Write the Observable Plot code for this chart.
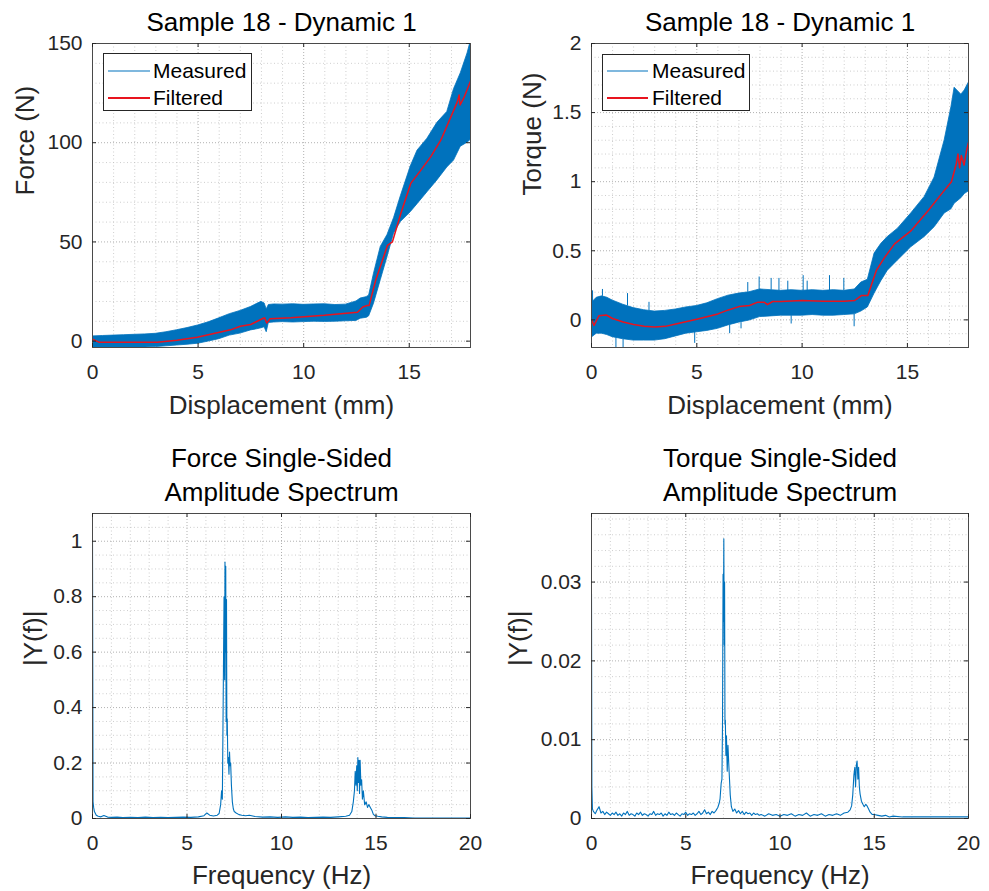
<!DOCTYPE html>
<html><head><meta charset="utf-8">
<script src="https://cdn.jsdelivr.net/npm/d3@7"></script>
<script src="https://cdn.jsdelivr.net/npm/@observablehq/plot@0.6"></script>
<style>
body{margin:0;background:#fff;}
#wrap{position:relative;width:989px;height:891px;background:#fff;overflow:hidden;}
</style>
</head><body><div id="wrap"></div>
<script>
// ---------- DATA ----------
// Force (N) measured band: [displacement mm, lower envelope, upper envelope]
const forceBand = [
 [0,-3.5,2.4],[0.5,-3.5,2.6],[1,-3.5,2.8],[1.5,-3.4,3.0],[2,-3.3,3.2],[2.5,-3.2,3.4],[3,-3.0,3.7],
 [3.5,-2.6,4.5],[4,-2.2,5.5],[4.5,-1.8,6.6],[5,-1.3,7.9],[5.5,-0.2,9.5],[6,1.0,11.5],[6.5,2.8,13.6],
 [7,3.8,15.2],[7.5,5.4,17.2],[7.8,6.0,18.8],[8,6.5,19.8],[8.15,7.0,19.0],[8.25,4.5,16.0],[8.35,9.2,18.2],
 [8.6,9.4,18.5],[9,9.6,18.4],[9.5,9.4,18.6],[10,9.6,18.3],[10.5,9.8,18.5],[11,9.7,18.6],[11.5,9.8,18.2],
 [12,10.0,18.4],[12.5,10.2,20.0],[12.7,11.3,21.5],[13,11.8,22.2],[13.1,12.5,23.0],[13.33,18.9,34],
 [13.65,30.7,47.5],[13.97,42.4,53.5],[14.28,54.2,62],[14.6,60,73],[15.07,65,88],[15.39,69,96],
 [15.86,75,102],[16.33,81,110],[16.8,87.5,115.5],[17.12,91,127],[17.44,98,135],[17.76,100,145],[17.91,101.4,151]
];
// Force filtered: [displacement mm, force N]
const forceFiltered = [
 [0,1],[0.3,-0.5],[1.45,-0.5],[3.07,-0.5],[4,0.5],[4.96,2],[5.8,4],[6.54,5.7],[7,7.5],[7.49,8.4],
 [8.04,11.3],[8.15,11.8],[8.25,9.1],[8.41,11.3],[9.39,11.8],[10.97,13],[12.55,14.6],[12.8,17.2],[13,18],
 [13.1,18],[13.41,30.7],[13.97,48.3],[14.2,50],[14.6,64.3],[15.07,79.5],[15.55,86.2],[16.02,93],
 [16.5,101.4],[16.97,113],[17.28,120.7],[17.36,124],[17.41,119],[17.6,123],[17.9,131]
];
// Torque measured band: [displacement mm, lower, upper]
const torqueBand = [
 [0,-0.13,0.12],[0.25,-0.1,0.16],[0.5,-0.1,0.17],[0.75,-0.11,0.16],[1,-0.125,0.14],[1.5,-0.14,0.11],
 [2,-0.15,0.085],[2.5,-0.15,0.07],[3,-0.15,0.06],[3.5,-0.14,0.065],[4,-0.12,0.075],[4.5,-0.1,0.09],
 [5,-0.09,0.1],[5.5,-0.08,0.12],[6,-0.065,0.15],[6.5,-0.04,0.175],[7,-0.02,0.19],[7.5,-0.005,0.2],
 [8,0.02,0.22],[8.5,0.025,0.215],[9,0.03,0.21],[9.5,0.03,0.215],[10,0.03,0.21],[10.5,0.035,0.215],
 [11,0.03,0.21],[11.5,0.03,0.215],[12,0.035,0.21],[12.5,0.04,0.22],[12.81,0.06,0.27],[13.12,0.09,0.29],
 [13.44,0.19,0.48],[13.76,0.28,0.55],[14.07,0.356,0.6],[14.55,0.43,0.66],[15.18,0.525,0.77],
 [15.82,0.6,0.89],[16.29,0.67,1.03],[16.77,0.77,1.3],[17.09,0.8,1.54],[17.24,0.84,1.68],
 [17.56,0.88,1.63],[17.72,0.91,1.66],[17.96,0.935,1.73]
];
// Torque isolated spikes: [displacement, band edge, spike tip]
const torqueSpikes = [
 [0.05,0.12,0.21],[0.52,0.17,0.22],[1.71,0.1,0.19],[2.73,0.065,0.127],[7.42,0.2,0.27],[7.96,0.22,0.31],
 [8.53,0.215,0.3],[8.9,0.21,0.3],[9.32,0.21,0.28],[10.05,0.21,0.32],[10.24,0.21,0.28],[11.3,0.21,0.32],
 [11.98,0.21,0.3],[1.16,-0.13,-0.2],[1.5,-0.14,-0.2],[4.9,-0.09,-0.17],[6.56,-0.04,-0.1],
 [7.1,-0.02,-0.065],[9.48,0.03,-0.03],[12.47,0.04,-0.05]
];
// Torque filtered: [displacement mm, torque]
const torqueFiltered = [
 [0,0],[0.12,-0.04],[0.35,0.03],[0.7,0.035],[1,0.01],[1.5,-0.015],[2,-0.034],[2.5,-0.047],[3,-0.052],
 [3.5,-0.047],[4,-0.03],[5,0.005],[6,0.043],[6.5,0.072],[7,0.096],[7.5,0.104],[7.9,0.128],[8.2,0.128],
 [8.35,0.11],[8.6,0.133],[9,0.133],[10,0.14],[11,0.135],[12,0.135],[12.5,0.14],[12.81,0.176],[13.12,0.176],
 [13.52,0.356],[13.91,0.45],[14.39,0.55],[15.18,0.646],[15.98,0.79],[16.61,0.91],[17.09,1.0],[17.32,1.13],
 [17.4,1.2],[17.48,1.1],[17.56,1.19],[17.69,1.12],[17.8,1.22],[17.96,1.32]
];
// Force spectrum: [frequency Hz, |Y(f)|]
const forceSpectrum = [
 [0,1.0],[0.03,0.06],[0.06,0.04],[0.1,0.025],[0.2,0.012],[0.3,0.008],[0.45,0.006],[0.6,0.011],[0.8,0.005],
 [1.0,0.004],[1.3,0.005],[1.6,0.003],[2.0,0.004],[2.4,0.003],[2.8,0.005],[3.2,0.003],[3.6,0.004],[4.0,0.003],
 [4.4,0.004],[4.8,0.005],[5.2,0.004],[5.6,0.006],[5.9,0.01],[6.05,0.02],[6.2,0.012],[6.4,0.009],[6.6,0.012],
 [6.7,0.018],[6.78,0.05],[6.83,0.1],[6.87,0.07],[6.9,0.3],[6.93,0.55],[6.96,0.8],[6.99,0.5],[7.01,0.925],
 [7.03,0.6],[7.05,0.91],[7.07,0.35],[7.09,0.79],[7.11,0.3],[7.13,0.36],[7.16,0.2],[7.19,0.22],[7.22,0.16],
 [7.25,0.24],[7.28,0.19],[7.31,0.2],[7.35,0.12],[7.4,0.06],[7.45,0.035],[7.5,0.025],[7.6,0.02],[7.75,0.014],
 [7.9,0.012],[8.1,0.01],[8.3,0.012],[8.6,0.007],[9.0,0.005],[9.4,0.006],[9.8,0.004],[10.2,0.006],[10.6,0.004],
 [11.0,0.005],[11.4,0.003],[11.8,0.004],[12.2,0.005],[12.6,0.004],[13.0,0.006],[13.4,0.008],[13.6,0.012],
 [13.72,0.025],[13.8,0.06],[13.86,0.1],[13.9,0.17],[13.94,0.12],[13.98,0.19],[14.01,0.1],[14.04,0.22],
 [14.07,0.13],[14.1,0.21],[14.13,0.09],[14.16,0.21],[14.2,0.12],[14.24,0.14],[14.28,0.07],[14.33,0.1],
 [14.4,0.05],[14.48,0.06],[14.55,0.04],[14.62,0.05],[14.7,0.04],[14.78,0.03],[14.86,0.015],[14.95,0.01],
 [15.1,0.008],[15.3,0.006],[15.6,0.004],[16.0,0.003],[16.5,0.003],[17.0,0.002],[17.5,0.002],[18.0,0.002],
 [18.5,0.002],[19.0,0.002],[19.5,0.002],[20.0,0.002]
];
// Torque spectrum: [frequency Hz, |Y(f)|]
const torqueSpectrum = [
 [0,0.0285],[0.02,0.004],[0.05,0.0012],[0.1,0.0009],[0.2,0.0006],[0.3,0.0011],[0.4,0.0015],[0.5,0.0007],
 [0.6,0.0009],[0.7,0.0005],[0.8,0.0008],[0.9,0.0006],[1.0,0.0004],[1.1,0.0007],[1.2,0.0005],[1.3,0.0008],
 [1.4,0.0004],[1.5,0.0006],[1.6,0.0003],[1.7,0.0007],[1.8,0.0005],[1.9,0.0009],[2.0,0.0004],[2.1,0.0006],
 [2.2,0.0005],[2.3,0.0003],[2.4,0.0007],[2.5,0.0005],[2.6,0.0008],[2.7,0.0004],[2.8,0.0006],[2.9,0.0005],
 [3.0,0.0003],[3.1,0.0006],[3.2,0.0005],[3.3,0.0009],[3.4,0.0004],[3.5,0.0006],[3.6,0.0005],[3.7,0.0007],
 [3.8,0.0003],[3.9,0.0006],[4.0,0.0004],[4.1,0.0008],[4.2,0.0005],[4.3,0.0006],[4.4,0.0004],[4.5,0.0007],
 [4.6,0.0005],[4.7,0.0003],[4.8,0.0006],[4.9,0.0005],[5.0,0.0008],[5.1,0.0004],[5.2,0.0006],[5.3,0.0005],
 [5.4,0.0007],[5.5,0.0004],[5.6,0.0006],[5.7,0.0009],[5.8,0.0005],[5.9,0.0007],[6.0,0.0011],[6.1,0.0006],
 [6.2,0.0008],[6.3,0.0005],[6.4,0.0009],[6.5,0.0007],[6.6,0.001],[6.7,0.0014],[6.77,0.0019],
 [6.82,0.0025],[6.88,0.0045],[6.92,0.005],[6.95,0.012],[6.98,0.031],[7.0,0.025],[7.02,0.0355],[7.04,0.022],
 [7.06,0.03],[7.08,0.012],[7.1,0.0125],[7.13,0.008],[7.16,0.0105],[7.2,0.006],[7.24,0.0093],[7.28,0.007],
 [7.32,0.005],[7.36,0.003],[7.42,0.0015],[7.5,0.0009],[7.6,0.0012],[7.7,0.0007],[7.8,0.001],[7.9,0.0006],
 [8.0,0.0009],[8.1,0.0005],[8.2,0.0008],[8.3,0.0006],[8.4,0.0007],[8.5,0.0004],[8.6,0.0007],[8.7,0.0005],
 [8.8,0.0006],[8.9,0.0004],[9.0,0.0005],[9.2,0.0003],[9.4,0.0006],[9.6,0.0004],[9.8,0.0005],[10.0,0.0003],
 [10.2,0.0005],[10.4,0.0004],[10.6,0.0006],[10.8,0.0003],[11.0,0.0005],[11.2,0.0004],[11.4,0.0007],
 [11.6,0.0003],[11.8,0.0005],[12.0,0.0004],[12.2,0.0006],[12.4,0.0003],[12.6,0.0005],[12.8,0.0004],
 [13.0,0.0006],[13.2,0.0004],[13.4,0.0007],[13.6,0.0008],[13.72,0.0011],[13.8,0.0016],
 [13.86,0.003],[13.92,0.0055],[13.97,0.0065],[14.01,0.004],[14.05,0.0068],[14.09,0.0073],[14.13,0.005],
 [14.17,0.0065],[14.21,0.004],[14.25,0.0031],[14.32,0.0022],[14.4,0.0018],[14.47,0.0015],[14.55,0.0018],
 [14.62,0.0016],[14.7,0.0012],[14.78,0.0008],[14.9,0.0005],[15.0,0.0005],[15.2,0.0004],[15.4,0.0003],
 [15.6,0.0004],[15.8,0.0002],[16.0,0.0003],[16.5,0.0002],[17.0,0.0002],[17.5,0.0002],[18.0,0.0002],
 [18.5,0.0002],[19.0,0.0002],[19.5,0.0002],[20.0,0.0002]
];
// Tick labels
const dispTicks = [0, 5, 10, 15];
const forceTicks = [0, 50, 100, 150];
const torqueTicks = [0, 0.5, 1, 1.5, 2];
const freqTicks = [0, 5, 10, 15, 20];
const ampForceTicks = [0, 0.2, 0.4, 0.6, 0.8, 1];
const ampTorqueTicks = [0, 0.01, 0.02, 0.03];
const titlesTop = ["Sample 18 - Dynamic 1"];
const titlesForceSpec = ["Force Single-Sided", "Amplitude Spectrum"];
const titlesTorqueSpec = ["Torque Single-Sided", "Amplitude Spectrum"];
const legendLabels = ["Measured", "Filtered"];

// ---------- STYLE ----------
const FONT = '"Liberation Sans", Arial, Helvetica, sans-serif';
const BLUE = "#0072BD", RED = "#E8141E", AXIS = "#262626";

function steps(a, b, step) {
  const out = [];
  for (let i = 0; a + i * step <= b + 1e-9; i++) out.push(+(a + i * step).toFixed(6));
  return out;
}

function panel(c) {
  const fw = c.width - c.ml - c.mr, fh = c.height - c.mt - c.mb;
  const isMajor = (arr) => (v) => arr.some(t => Math.abs(t - v) < 1e-9);
  const minorX = steps(Math.ceil(c.xDomain[0] / c.xMinor) * c.xMinor, c.xDomain[1], c.xMinor).filter(v => !isMajor(c.xTicks)(v));
  const minorY = steps(Math.ceil(c.yDomain[0] / c.yMinor - 1e-9) * c.yMinor, c.yDomain[1], c.yMinor).filter(v => !isMajor(c.yTicks)(v));
  const titleMarks = c.titles.map((t, i) => Plot.text([t], {
    text: d => d, frameAnchor: "top", dy: c.titleDy[i], lineAnchor: "middle",
    fontSize: 26, fill: "#000"
  }));
  return Plot.plot({
    width: c.width, height: c.height,
    marginLeft: c.ml, marginRight: c.mr, marginTop: c.mt, marginBottom: c.mb,
    x: {domain: c.xDomain},
    y: {domain: c.yDomain},
    style: {fontFamily: FONT, color: AXIS, background: "transparent", overflow: "visible"},
    marks: [
      Plot.ruleX(minorX, {stroke: "#c2c2c2", strokeDasharray: "1,2.5", strokeWidth: 0.8}),
      Plot.ruleY(minorY, {stroke: "#c2c2c2", strokeDasharray: "1,2.5", strokeWidth: 0.8}),
      Plot.ruleX(c.xTicks, {stroke: "#a8a8a8", strokeDasharray: "1,2", strokeWidth: 0.9}),
      Plot.ruleY(c.yTicks, {stroke: "#a8a8a8", strokeDasharray: "1,2", strokeWidth: 0.9}),
      ...c.marks,
      Plot.frame({stroke: "#4a4a4a", strokeWidth: 1}),
      Plot.tickX(c.xTicks, {insetTop: fh - 4, stroke: AXIS}),
      Plot.tickX(c.xTicks, {insetBottom: fh - 4, stroke: AXIS}),
      Plot.tickY(c.yTicks, {insetRight: fw - 4, stroke: AXIS}),
      Plot.tickY(c.yTicks, {insetLeft: fw - 4, stroke: AXIS}),
      Plot.axisX(c.xTicks, {tickSize: 0, tickPadding: 17, fontSize: 21, tickFormat: d => String(d), label: null}),
      Plot.axisY(c.yTicks, {tickSize: 0, tickPadding: 10, fontSize: 21, tickFormat: d => String(d), label: null}),
      ...titleMarks,
      Plot.text([c.xLabel], {text: d => d, frameAnchor: "bottom", dy: c.xLabelDy, lineAnchor: "middle", fontSize: 26, fill: AXIS}),
      Plot.text([c.yLabel], {text: d => d, frameAnchor: "left", dx: c.yLabelDx, rotate: -90, lineAnchor: "middle", fontSize: 26, fill: AXIS})
    ]
  });
}

const root = document.getElementById("wrap");
function place(node, left, top) {
  node.style.position = "absolute";
  node.style.left = left + "px";
  node.style.top = top + "px";
  root.appendChild(node);
}

function legendBox(left, top, w, h, lx0, lx1, tx, rows) {
  const ns = "http://www.w3.org/2000/svg";
  const svg = document.createElementNS(ns, "svg");
  svg.setAttribute("width", w); svg.setAttribute("height", h);
  svg.style.overflow = "visible";
  let html = `<rect x="0.5" y="0.5" width="${w - 1}" height="${h - 1}" fill="#fff" stroke="#262626" stroke-width="1"/>`;
  const colors = [BLUE, RED], widths = [1.2, 1.8];
  legendLabels.forEach((lab, i) => {
    const y = rows[i];
    html += `<line x1="${lx0}" x2="${lx1}" y1="${y}" y2="${y}" stroke="${colors[i]}" stroke-width="${widths[i]}"/>`;
    html += `<text x="${tx}" y="${y}" dy="0.35em" font-family='${FONT}' font-size="21" fill="#000">${lab}</text>`;
  });
  svg.innerHTML = html;
  place(svg, left, top);
}

// Panel 1: force vs displacement
place(panel({
  width: 495, height: 430, ml: 92, mr: 25, mt: 43, mb: 83,
  xDomain: [0, 17.9], yDomain: [-3.2, 150], xTicks: dispTicks, yTicks: forceTicks, xMinor: 1, yMinor: 10,
  titles: titlesTop, titleDy: [-21], xLabel: "Displacement (mm)", xLabelDy: 58, yLabel: "Force (N)", yLabelDx: -67,
  marks: [
    Plot.areaY(forceBand, {x: d => d[0], y1: d => d[1], y2: d => d[2], fill: BLUE, stroke: BLUE, strokeWidth: 0.8, clip: true}),
    Plot.line(forceFiltered, {x: d => d[0], y: d => d[1], stroke: RED, strokeWidth: 1.5, clip: true})
  ]
}), 0, 0);

// Panel 2: torque vs displacement
place(panel({
  width: 494, height: 430, ml: 96, mr: 21, mt: 43, mb: 83,
  xDomain: [0, 17.9], yDomain: [-0.2, 2], xTicks: dispTicks, yTicks: torqueTicks, xMinor: 1, yMinor: 0.1,
  titles: titlesTop, titleDy: [-21], xLabel: "Displacement (mm)", xLabelDy: 58, yLabel: "Torque (N)", yLabelDx: -59,
  marks: [
    Plot.areaY(torqueBand, {x: d => d[0], y1: d => d[1], y2: d => d[2], fill: BLUE, stroke: BLUE, strokeWidth: 0.8, clip: true}),
    Plot.ruleX(torqueSpikes, {x: d => d[0], y1: d => d[1], y2: d => d[2], stroke: BLUE, strokeWidth: 1, clip: true}),
    Plot.line(torqueFiltered, {x: d => d[0], y: d => d[1], stroke: RED, strokeWidth: 1.5, clip: true})
  ]
}), 495, 0);

// Panel 3: force spectrum
place(panel({
  width: 495, height: 461, ml: 92, mr: 25, mt: 83, mb: 73,
  xDomain: [0, 20], yDomain: [0, 1.1], xTicks: freqTicks, yTicks: ampForceTicks, xMinor: 1, yMinor: 0.05,
  titles: titlesForceSpec, titleDy: [-55, -21], xLabel: "Frequency (Hz)", xLabelDy: 57, yLabel: "|Y(f)|", yLabelDx: -59,
  marks: [
    Plot.line(forceSpectrum, {x: d => d[0], y: d => d[1], stroke: BLUE, strokeWidth: 1.1, clip: true})
  ]
}), 0, 430);

// Panel 4: torque spectrum
place(panel({
  width: 494, height: 461, ml: 96, mr: 21, mt: 83, mb: 73,
  xDomain: [0, 20], yDomain: [0, 0.0387], xTicks: freqTicks, yTicks: ampTorqueTicks, xMinor: 1, yMinor: 0.002,
  titles: titlesTorqueSpec, titleDy: [-55, -21], xLabel: "Frequency (Hz)", xLabelDy: 57, yLabel: "|Y(f)|", yLabelDx: -73,
  marks: [
    Plot.line(torqueSpectrum, {x: d => d[0], y: d => d[1], stroke: BLUE, strokeWidth: 1.1, clip: true})
  ]
}), 495, 430);

// Legends
legendBox(103, 53, 149, 58, 5, 47, 50, [18, 45]);
legendBox(602, 54, 148, 57, 5, 46, 50, [17, 44]);
</script>
</body></html>
